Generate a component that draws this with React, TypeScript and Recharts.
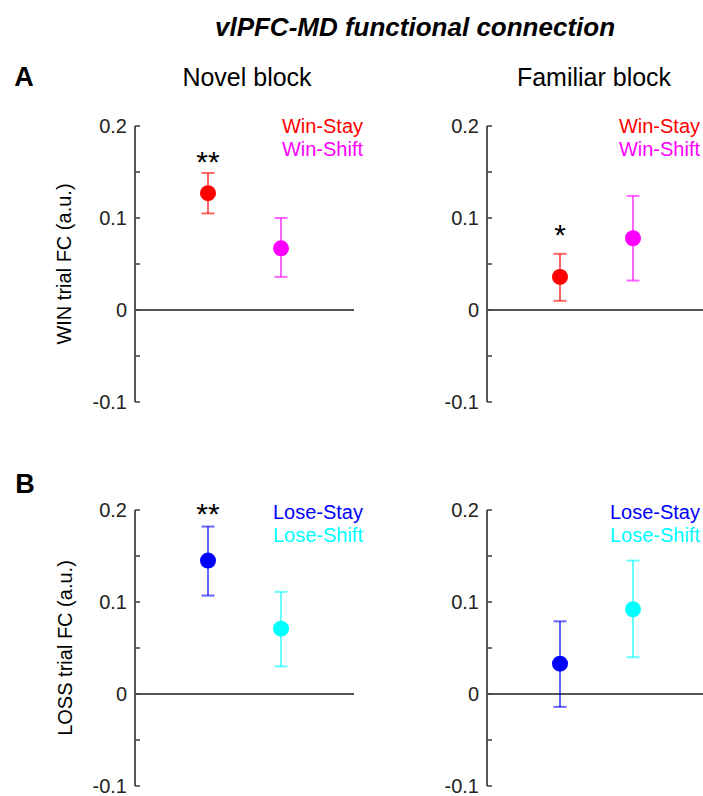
import React from 'react';
import { ScatterChart, Scatter, XAxis, YAxis, ErrorBar, ReferenceLine, ReferenceDot } from 'recharts';

const FONT = '"Liberation Sans", Arial, Helvetica, sans-serif';

// categories (x positions of the two conditions)
const conditionX = [1, 2];
const yTicks = [-0.1, -0.05, 0, 0.05, 0.1, 0.15, 0.2];

const winLabels = ['Win-Stay', 'Win-Shift'];
const lossLabels = ['Lose-Stay', 'Lose-Shift'];
const winColors = ['#ff0000', '#ff00ff'];
const lossColors = ['#0000ff', '#00ffff'];

// Novel block, WIN trials
const novelWinMean = [0.127, 0.067];
const novelWinLow = [0.105, 0.036];
const novelWinHigh = [0.149, 0.1];
const novelWinSig = ['**', ''];
const novelWinSigY = [0.168, 0];

// Familiar block, WIN trials
const familiarWinMean = [0.036, 0.078];
const familiarWinLow = [0.01, 0.032];
const familiarWinHigh = [0.061, 0.124];
const familiarWinSig = ['*', ''];
const familiarWinSigY = [0.089, 0];

// Novel block, LOSS trials
const novelLossMean = [0.145, 0.071];
const novelLossLow = [0.107, 0.03];
const novelLossHigh = [0.182, 0.111];
const novelLossSig = ['**', ''];
const novelLossSigY = [0.203, 0];

// Familiar block, LOSS trials
const familiarLossMean = [0.033, 0.092];
const familiarLossLow = [-0.014, 0.04];
const familiarLossHigh = [0.079, 0.145];
const familiarLossSig = ['', ''];
const familiarLossSigY = [0, 0];

const AXIS_COLOR = '#444';

const fmt = (v: number) => (Math.abs(v) < 1e-9 ? '0' : v.toFixed(1));

const AxisTick = (props: any) => {
  const { x, y, payload } = props;
  const v = payload.value as number;
  const major = Math.abs(Math.round(v * 10) - v * 10) < 1e-6;
  return (
    <g>
      <line x1={x} x2={x + 5} y1={y} y2={y} stroke={AXIS_COLOR} strokeWidth={1.6} />
      {major && (
        <text x={x - 8} y={y} dy="0.36em" textAnchor="end" fontSize={20} fill="#222" fontFamily={FONT}>
          {fmt(v)}
        </text>
      )}
    </g>
  );
};

type PanelProps = {
  left: number;
  top: number;
  axisWidth: number;
  rightMargin: number;
  mean: number[];
  low: number[];
  high: number[];
  colors: string[];
  labels: string[];
  sig: string[];
  sigY: number[];
};

const Panel = ({ left, top, axisWidth, rightMargin, mean, low, high, colors, labels, sig, sigY }: PanelProps) => {
  const plotW = 219;
  const width = axisWidth + plotW + rightMargin;
  return (
    <div style={{ position: 'absolute', left, top }}>
      <ScatterChart width={width} height={326} margin={{ top: 26, right: rightMargin, bottom: 24, left: 0 }}>
        <XAxis type="number" dataKey="x" domain={[0, 3]} hide />
        <YAxis
          type="number"
          dataKey="y"
          domain={[-0.1, 0.2]}
          ticks={yTicks}
          interval={0}
          width={axisWidth}
          tickSize={0}
          tickMargin={0}
          tickLine={false}
          axisLine={{ stroke: AXIS_COLOR, strokeWidth: 1.8 }}
          tick={<AxisTick />}
        />
        <ReferenceLine y={0} stroke="#555" strokeWidth={2} />
        {conditionX.map((cx, i) => (
          <Scatter
            key={labels[i]}
            name={labels[i]}
            data={[{ x: cx, y: mean[i], err: [mean[i] - low[i], high[i] - mean[i]] }]}
            fill={colors[i]}
            isAnimationActive={false}
            shape={(p: any) => <circle cx={p.cx} cy={p.cy} r={8} fill={colors[i]} />}
          >
            <ErrorBar
              dataKey="err"
              direction="y"
              width={6.5}
              stroke={colors[i]}
              strokeWidth={2}
              strokeOpacity={0.6}
              isAnimationActive={false}
            />
          </Scatter>
        ))}
        {conditionX.map((cx, i) =>
          sig[i] ? (
            <ReferenceDot
              key={'sig' + i}
              x={cx}
              y={sigY[i]}
              r={0}
              ifOverflow="visible"
              shape={(p: any) => (
                <text x={p.cx} y={p.cy + 17} textAnchor="middle" fontSize={30} fill="#000" fontFamily={FONT}>
                  {sig[i]}
                </text>
              )}
            />
          ) : null
        )}
      </ScatterChart>
    </div>
  );
};

const Legend2 = ({ right, top, labels, colors }: { right: number; top: number; labels: string[]; colors: string[] }) => (
  <div
    style={{
      position: 'absolute',
      right,
      top,
      textAlign: 'right',
      fontFamily: FONT,
      fontSize: 20,
      lineHeight: '23px',
      whiteSpace: 'nowrap',
    }}
  >
    {labels.map((l, i) => (
      <div key={l} style={{ color: colors[i] }}>
        {l}
      </div>
    ))}
  </div>
);

const textAbs = (x: number, y: number, extra: React.CSSProperties = {}): React.CSSProperties => ({
  position: 'absolute',
  left: x,
  top: y,
  transform: 'translate(-50%, -50%)',
  fontFamily: FONT,
  lineHeight: 1,
  whiteSpace: 'nowrap',
  color: '#000',
  ...extra,
});

export default function App() {
  return (
    <div
      style={{
        position: 'absolute',
        left: 0,
        top: 0,
        width: 703,
        height: 796,
        overflow: 'hidden',
        background: '#fff',
      }}
    >
      <div style={textAbs(415, 27, { fontSize: 26, fontWeight: 'bold', fontStyle: 'italic' })}>
        vlPFC-MD functional connection
      </div>
      <div style={textAbs(24, 76.5, { fontSize: 27, fontWeight: 'bold' })}>A</div>
      <div style={textAbs(25, 484, { fontSize: 27, fontWeight: 'bold' })}>B</div>
      <div style={textAbs(247, 76.5, { fontSize: 25 })}>Novel block</div>
      <div style={textAbs(594, 76.5, { fontSize: 25 })}>Familiar block</div>
      <div style={textAbs(64, 264, { fontSize: 20, transform: 'translate(-50%, -50%) rotate(-90deg)' })}>
        WIN trial FC (a.u.)
      </div>
      <div style={textAbs(65, 648, { fontSize: 20, transform: 'translate(-50%, -50%) rotate(-90deg)' })}>
        LOSS trial FC (a.u.)
      </div>

      <Panel left={0} top={100} axisWidth={135} rightMargin={20} mean={novelWinMean} low={novelWinLow} high={novelWinHigh} colors={winColors} labels={winLabels} sig={novelWinSig} sigY={novelWinSigY} />
      <Panel left={400} top={100} axisWidth={87} rightMargin={0} mean={familiarWinMean} low={familiarWinLow} high={familiarWinHigh} colors={winColors} labels={winLabels} sig={familiarWinSig} sigY={familiarWinSigY} />
      <Panel left={0} top={484} axisWidth={135} rightMargin={20} mean={novelLossMean} low={novelLossLow} high={novelLossHigh} colors={lossColors} labels={lossLabels} sig={novelLossSig} sigY={novelLossSigY} />
      <Panel left={400} top={484} axisWidth={87} rightMargin={0} mean={familiarLossMean} low={familiarLossLow} high={familiarLossHigh} colors={lossColors} labels={lossLabels} sig={familiarLossSig} sigY={familiarLossSigY} />

      <Legend2 right={340} top={114.5} labels={winLabels} colors={winColors} />
      <Legend2 right={3} top={114.5} labels={winLabels} colors={winColors} />
      <Legend2 right={340} top={500.5} labels={lossLabels} colors={lossColors} />
      <Legend2 right={3} top={500.5} labels={lossLabels} colors={lossColors} />
    </div>
  );
}
